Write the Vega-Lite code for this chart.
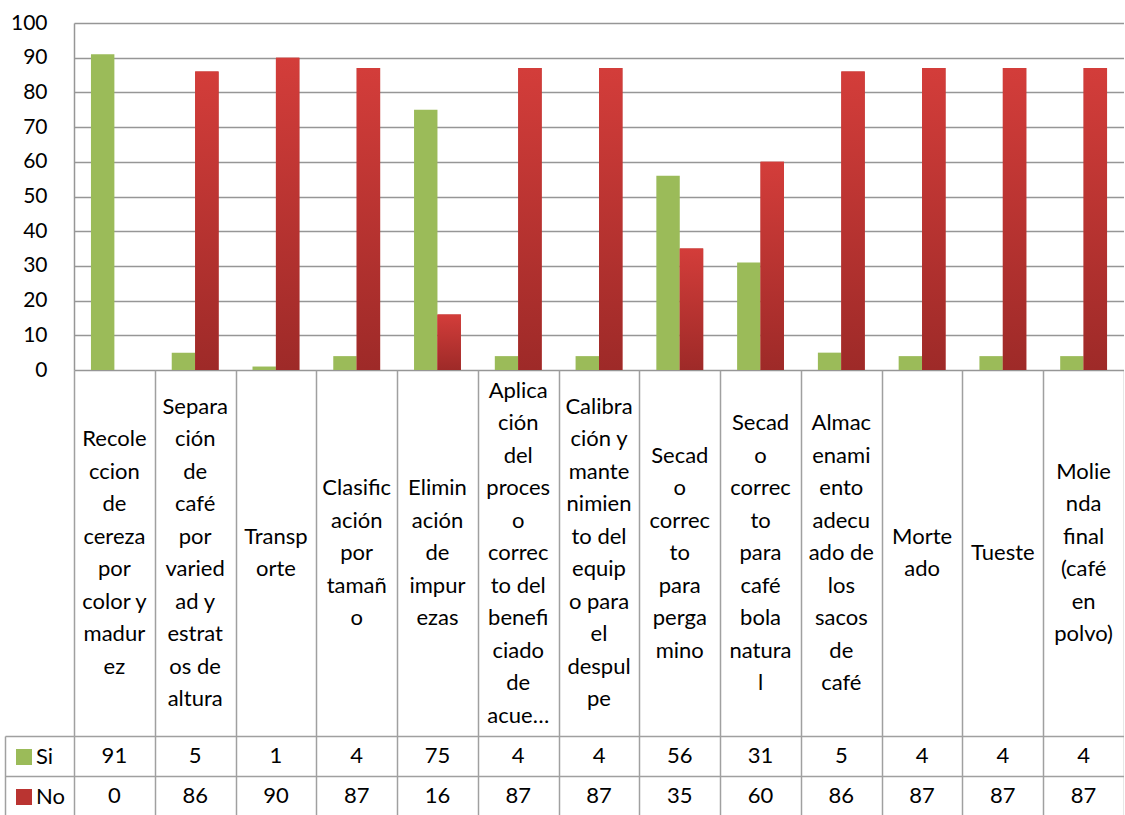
{
  "$schema": "https://vega.github.io/schema/vega-lite/v6.json",
  "padding": {"left": 4, "top": 12, "right": 0, "bottom": 0},
  "background": "white",
  "spacing": 0,
  "bounds": "flush",
  "config": {
    "view": {"stroke": null},
    "font": "Lato",
    "axis": {"labelFont": "Lato", "titleFont": "Lato"},
    "legend": {"labelFont": "Lato"}
  },
  "datasets": {
    "d": [
      {"proceso": "Recole\nccion\nde\ncereza\npor\ncolor y\nmadur\nez", "serie": "Si", "valor": 91},
      {"proceso": "Recole\nccion\nde\ncereza\npor\ncolor y\nmadur\nez", "serie": "No", "valor": 0},
      {"proceso": "Separa\nción\nde\ncafé\npor\nvaried\nad y\nestrat\nos de\naltura", "serie": "Si", "valor": 5},
      {"proceso": "Separa\nción\nde\ncafé\npor\nvaried\nad y\nestrat\nos de\naltura", "serie": "No", "valor": 86},
      {"proceso": "Transp\norte", "serie": "Si", "valor": 1},
      {"proceso": "Transp\norte", "serie": "No", "valor": 90},
      {"proceso": "Clasific\nación\npor\ntamañ\no", "serie": "Si", "valor": 4},
      {"proceso": "Clasific\nación\npor\ntamañ\no", "serie": "No", "valor": 87},
      {"proceso": "Elimin\nación\nde\nimpur\nezas", "serie": "Si", "valor": 75},
      {"proceso": "Elimin\nación\nde\nimpur\nezas", "serie": "No", "valor": 16},
      {"proceso": "Aplica\nción\ndel\nproces\no\ncorrec\nto del\nbenefi\nciado\nde\nacue…", "serie": "Si", "valor": 4},
      {"proceso": "Aplica\nción\ndel\nproces\no\ncorrec\nto del\nbenefi\nciado\nde\nacue…", "serie": "No", "valor": 87},
      {"proceso": "Calibra\nción y\nmante\nnimien\nto del\nequip\no para\nel\ndespul\npe", "serie": "Si", "valor": 4},
      {"proceso": "Calibra\nción y\nmante\nnimien\nto del\nequip\no para\nel\ndespul\npe", "serie": "No", "valor": 87},
      {"proceso": "Secad\no\ncorrec\nto\npara\nperga\nmino", "serie": "Si", "valor": 56},
      {"proceso": "Secad\no\ncorrec\nto\npara\nperga\nmino", "serie": "No", "valor": 35},
      {"proceso": "Secad\no\ncorrec\nto\npara\ncafé\nbola\nnatura\nl", "serie": "Si", "valor": 31},
      {"proceso": "Secad\no\ncorrec\nto\npara\ncafé\nbola\nnatura\nl", "serie": "No", "valor": 60},
      {"proceso": "Almac\nenami\nento\nadecu\nado de\nlos\nsacos\nde\ncafé", "serie": "Si", "valor": 5},
      {"proceso": "Almac\nenami\nento\nadecu\nado de\nlos\nsacos\nde\ncafé", "serie": "No", "valor": 86},
      {"proceso": "Morte\nado", "serie": "Si", "valor": 4},
      {"proceso": "Morte\nado", "serie": "No", "valor": 87},
      {"proceso": "Tueste", "serie": "Si", "valor": 4},
      {"proceso": "Tueste", "serie": "No", "valor": 87},
      {"proceso": "Molie\nnda\nfinal\n(café\nen\npolvo)", "serie": "Si", "valor": 4},
      {"proceso": "Molie\nnda\nfinal\n(café\nen\npolvo)", "serie": "No", "valor": 87}
    ]
  },
  "vconcat": [
    {
      "width": 1050,
      "height": 347,
      "data": {"name": "d"},
      "encoding": {
        "x": {"field": "proceso", "type": "nominal", "sort": null, "axis": null,
              "scale": {"paddingInner": 0.42, "paddingOuter": 0.21}},
        "xOffset": {"field": "serie", "type": "nominal", "sort": ["Si", "No"],
                    "scale": {"domain": ["Si", "No"], "paddingInner": 0, "paddingOuter": 0}},
        "y": {"field": "valor", "type": "quantitative",
              "scale": {"domain": [0, 100], "nice": false},
              "axis": {"values": [0, 10, 20, 30, 40, 50, 60, 70, 80, 90, 100], "title": null,
                       "labelFontSize": 21, "labelColor": "black", "labelPadding": 27,
                       "ticks": false, "gridColor": "#969696", "gridWidth": 1.5,
                       "domainColor": "#969696", "domainWidth": 1.5}}
      },
      "layer": [
        {
          "mark": {"type": "bar"},
          "encoding": {
            "color": {"field": "serie", "type": "nominal",
                      "scale": {"domain": ["Si", "No"], "range": ["#9BBB59", "#BA3431"]},
                      "legend": {"orient": "none", "legendX": -61, "legendY": 723, "title": null,
                                 "symbolType": "square", "symbolSize": 256, "symbolStrokeWidth": 0,
                                 "labelFontSize": 22, "labelColor": "black", "labelOffset": 1,
                                 "rowPadding": 18, "padding": 0}}
          }
        },
        {
          "transform": [{"filter": "datum.serie == 'No'"}],
          "mark": {"type": "bar", "color": {"gradient": "linear", "x1": 0, "y1": 0, "x2": 0, "y2": 1,
                   "stops": [{"offset": 0, "color": "#D33D3A"}, {"offset": 1, "color": "#9E2A28"}]}}
        }
      ]
    },
    {
      "width": 1050,
      "height": 366,
      "data": {"name": "d"},
      "transform": [{"filter": "datum.serie == 'Si'"}],
      "mark": {"type": "text", "fontSize": 22, "lineHeight": 32.5, "lineBreak": "\n",
               "align": "center", "baseline": "middle", "color": "black",
               "dy": {"expr": "-(length(split(datum.proceso, '\\n')) - 1) * 16.25"}},
      "encoding": {
        "x": {"field": "proceso", "type": "nominal", "sort": null, "scale": {"padding": 0},
              "axis": {"title": null, "labels": false, "ticks": false, "domain": false,
                       "grid": true, "tickBand": "extent", "gridColor": "#a0a0a0", "gridWidth": 1.5}},
        "text": {"field": "proceso"}
      }
    },
    {
      "width": 1050,
      "height": 80,
      "data": {"name": "d"},
      "mark": {"type": "text", "fontSize": 22, "color": "black"},
      "encoding": {
        "x": {"field": "proceso", "type": "nominal", "sort": null, "scale": {"padding": 0},
              "axis": {"title": null, "labels": false, "ticks": false, "domain": false,
                       "grid": true, "tickBand": "extent", "gridColor": "#a0a0a0", "gridWidth": 1.5}},
        "y": {"field": "serie", "type": "nominal", "sort": ["Si", "No"], "scale": {"padding": 0},
              "axis": {"title": null, "labels": false, "ticks": true, "tickBand": "extent",
                       "tickSize": -69, "offset": 69, "domain": true, "grid": true,
                       "tickColor": "#a0a0a0", "tickWidth": 1.5, "domainColor": "#a0a0a0", "domainWidth": 1.5,
                       "gridColor": "#a0a0a0", "gridWidth": 1.5}},
        "text": {"field": "valor", "type": "quantitative"}
      }
    }
  ]
}
